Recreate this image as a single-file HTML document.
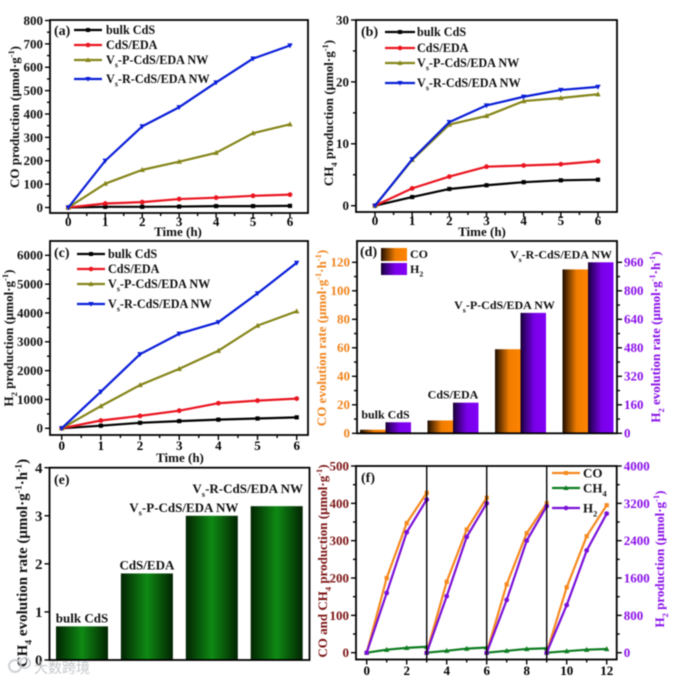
<!DOCTYPE html>
<html lang="en">
<head>
<meta charset="utf-8">
<title>Photocatalytic production charts</title>
<style>
html,body{margin:0;padding:0;background:#fff;width:684px;height:681px;overflow:hidden}
svg{display:block;filter:blur(0.6px)}
text{font-family:"Liberation Serif","Noto Serif CJK SC",serif;font-weight:bold}
</style>
</head>
<body>
<svg id="figure" xmlns="http://www.w3.org/2000/svg" width="684" height="681" viewBox="0 0 684 681">
<defs>
<linearGradient id="grad-orange" x1="0" x2="1" y1="0" y2="0"><stop offset="0" stop-color="#1c0c00"/><stop offset="0.2" stop-color="#6a3600"/><stop offset="0.55" stop-color="#f07c00"/><stop offset="1" stop-color="#ff8400"/></linearGradient>
<linearGradient id="grad-purple" x1="0" x2="1" y1="0" y2="0"><stop offset="0" stop-color="#14002e"/><stop offset="0.2" stop-color="#3d0080"/><stop offset="0.55" stop-color="#7a00ea"/><stop offset="1" stop-color="#8200f5"/></linearGradient>
<linearGradient id="grad-green" x1="0" x2="1" y1="0" y2="0"><stop offset="0" stop-color="#022402"/><stop offset="0.5" stop-color="#0f8a14"/><stop offset="1" stop-color="#022402"/></linearGradient>
</defs>
</svg>
<script>
const timeHours = [0, 1, 2, 3, 4, 5, 6];
const seriesNames = ['bulk CdS', 'CdS/EDA', 'VS-P-CdS/EDA NW', 'VS-R-CdS/EDA NW'];

const coBulk = [0, 3, 3, 4, 6, 6, 7];
const coEda = [0, 17, 23, 36, 42, 50, 55];
const coP = [0, 102, 161, 196, 234, 318, 356];
const coR = [0, 200, 347, 429, 535, 637, 693];
const coTicks = [0, 100, 200, 300, 400, 500, 600, 700, 800];

const ch4Bulk = [0, 1.4, 2.7, 3.3, 3.8, 4.1, 4.2];
const ch4Eda = [0, 2.8, 4.7, 6.3, 6.5, 6.7, 7.2];
const ch4P = [0, 7.4, 13.1, 14.5, 16.9, 17.4, 18];
const ch4R = [0, 7.5, 13.5, 16.2, 17.6, 18.7, 19.2];
const ch4Ticks = [0, 10, 20, 30];

const h2Bulk = [0, 90, 190, 250, 300, 340, 380];
const h2Eda = [0, 270, 430, 610, 870, 960, 1030];
const h2P = [0, 770, 1500, 2060, 2690, 3560, 4060];
const h2R = [0, 1270, 2570, 3280, 3680, 4680, 5740];
const h2Ticks = [0, 1000, 2000, 3000, 4000, 5000, 6000];

const rateCategories = ['bulk CdS', 'CdS/EDA', 'VS-P-CdS/EDA NW', 'VS-R-CdS/EDA NW'];
const coRate = [2.5, 9, 59, 115];
const h2Rate = [62, 172, 676, 960];
const coRateTicks = [0, 20, 40, 60, 80, 100, 120];
const h2RateTicks = [0, 160, 320, 480, 640, 800, 960];

const ch4Rate = [0.7, 1.8, 3.0, 3.2];
const ch4RateTicks = [0, 1, 2, 3, 4];

const cycleTicks = [0, 2, 4, 6, 8, 10, 12];
const cycleBreaks = [3, 6, 9];
const cycleTimes = [[0, 1, 2, 3], [3, 4, 5, 6], [6, 7, 8, 9], [9, 10, 11, 12]];
const cycleCo = [[0, 200, 347, 428], [0, 190, 330, 415], [0, 183, 320, 400], [0, 175, 312, 395]];
const cycleCh4 = [[0, 8, 13, 16], [0, 5, 11, 14], [0, 5, 10, 12], [0, 4, 8, 10]];
const cycleH2 = [[0, 1280, 2580, 3280], [0, 1210, 2480, 3200], [0, 1130, 2400, 3140], [0, 1020, 2190, 2980]];
const cycleLeftTicks = [0, 100, 200, 300, 400, 500];
const cycleRightTicks = [0, 800, 1600, 2400, 3200, 4000];

const NS = 'http://www.w3.org/2000/svg';
const root = document.getElementById('figure');
const SERIES_COLORS = ['#000000', '#ea1520', '#85851a', '#0a1ed8'];
const MARKERS = ['square', 'circle', 'up', 'down'];
const ORANGE = '#f0841c';
const PURPLE = '#8a10e8';
const DARKRED = '#7c1414';

function mk(tag, attrs, parent, name) {
  const el = document.createElementNS(NS, tag);
  for (const k in attrs) el.setAttribute(k, attrs[k]);
  
  
  parent.appendChild(el);
  return el;
}
function lin(d0, d1, r0, r1) {
  return function (v) { return r0 + (v - d0) * (r1 - r0) / (d1 - d0); };
}
function slug(s) { return String(s).toLowerCase().replace(/[^a-z0-9]+/g, '-').replace(/^-|-$/g, ''); }

function rich(parent, x, y, segs, size, fill, name, extra) {
  const attrs = Object.assign({ x: x, y: y, 'font-size': size, fill: fill }, extra || {});
  const t = mk('text', attrs, parent, name);
  let pending = 0;
  segs.forEach(function (s) {
    const span = document.createElementNS(NS, 'tspan');
    const kind = s[1];
    const shift = kind === 'sub' ? size * 0.3 : kind === 'sup' ? -size * 0.38 : 0;
    const d = pending + shift;
    if (d) span.setAttribute('dy', d);
    if (kind) span.setAttribute('font-size', size * 0.65);
    span.textContent = s[0];
    t.appendChild(span);
    pending = -shift;
  });
  return t;
}
function seriesSegs(label) {
  if (label.indexOf('VS') === 0) return [['V'], ['s', 'sub'], [label.slice(2)]];
  return [[label]];
}
function drawFrame(g, x0, y0, x1, y1) {
  mk('rect', { x: x0, y: y0, width: x1 - x0, height: y1 - y0, fill: 'none', stroke: '#000', 'stroke-width': 1.8 }, g, 'plot-frame');
}
function tick(g, x1, y1, x2, y2, name) {
  mk('line', { x1: x1, y1: y1, x2: x2, y2: y2, stroke: '#000', 'stroke-width': 1.4 }, g, name);
}
function yAxis(g, side, frameX, scale, ticks, withMinor, color, size) {
  const dir = side === 'left' ? -1 : 1;
  ticks.forEach(function (v, i) {
    const py = scale(v);
    tick(g, frameX, py, frameX + dir * 5, py, 'y-major-tick');
    const t = mk('text', { x: frameX + dir * 7, y: py + size * 0.34, 'font-size': size, fill: color, 'text-anchor': side === 'left' ? 'end' : 'start' }, g, 'y-tick-label');
    t.textContent = v;
    if (withMinor && i < ticks.length - 1) {
      const m = scale((v + ticks[i + 1]) / 2);
      tick(g, frameX, m, frameX + dir * 3, m, 'y-minor-tick');
    }
  });
}
function xAxis(g, frameY, scale, ticks, labelY) {
  ticks.forEach(function (v, i) {
    const px = scale(v);
    tick(g, px, frameY, px, frameY + 5, 'x-major-tick');
    const t = mk('text', { x: px, y: labelY, 'font-size': 13, fill: '#000', 'text-anchor': 'middle' }, g, 'x-tick-label');
    t.textContent = v;
    if (i < ticks.length - 1) {
      const m = scale((v + ticks[i + 1]) / 2);
      tick(g, m, frameY, m, frameY + 3, 'x-minor-tick');
    }
  });
}
function marker(g, kind, x, y, color, r) {
  if (kind === 'square') return mk('rect', { x: x - r, y: y - r, width: 2 * r, height: 2 * r, fill: color }, g, 'point-square');
  if (kind === 'circle') return mk('circle', { cx: x, cy: y, r: r + 0.3, fill: color }, g, 'point-circle');
  const s = kind === 'up' ? -1 : 1;
  const pts = [[x - r - 0.6, y - s * r], [x + r + 0.6, y - s * r], [x, y + s * (r + 0.8)]].map(function (p) { return p.join(','); }).join(' ');
  return mk('polygon', { points: pts, fill: color }, g, 'point-triangle');
}
function series(g, xs, ys, sx, sy, color, kind, name) {
  const sg = mk('g', {}, g, name);
  const pts = xs.map(function (x, i) { return sx(x) + ',' + sy(ys[i]); }).join(' ');
  mk('polyline', { points: pts, fill: 'none', stroke: color, 'stroke-width': 2.2, 'stroke-linejoin': 'round' }, sg, 'series-line');
  xs.forEach(function (x, i) { marker(sg, kind, sx(x), sy(ys[i]), color, 2.1); });
}
function legendEntry(g, x0, x1, y, textX, label, color, kind) {
  const e = mk('g', {}, g, 'legend-entry');
  mk('line', { x1: x0, y1: y, x2: x1, y2: y, stroke: color, 'stroke-width': 2.2 }, e, 'legend-line');
  marker(e, kind, (x0 + x1) / 2, y, color, 2);
  rich(e, textX, y + 4, seriesSegs(label), 12.2, '#111', 'legend-label');
}
function yTitle(g, baseX, centerY, segs, size, color, name) {
  rich(g, 0, 0, segs, size, color, name, { 'text-anchor': 'middle', transform: 'translate(' + baseX + ',' + centerY + ') rotate(-90)' });
}
function panelLetter(g, x, y, s) {
  const t = mk('text', { x: x, y: y, 'font-size': 14, fill: '#111' }, g, 'panel-letter');
  t.textContent = s;
}
function timeTitle(g, cx, y) {
  const t = mk('text', { x: cx, y: y, 'font-size': 13, fill: '#111', 'text-anchor': 'middle' }, g, 'x-axis-title');
  t.textContent = 'Time (h)';
}
function linePanel(name, frame, sx, sy, yTicks, seriesData, lg, titleCfg, letter, xLabelY, timeCfg) {
  const g = mk('g', {}, root, name);
  seriesData.forEach(function (vals, i) {
    series(g, timeHours, vals, sx, sy, SERIES_COLORS[i], MARKERS[i], 'series-' + slug(seriesNames[i]));
  });
  drawFrame(g, frame[0], frame[1], frame[2], frame[3]);
  yAxis(g, 'left', frame[0], sy, yTicks, true, '#111', 13);
  xAxis(g, frame[3], sx, timeHours, xLabelY);
  yTitle(g, titleCfg[0], titleCfg[1], titleCfg[2], 13, '#111', 'y-axis-title');
  panelLetter(g, letter[0], letter[1], letter[2]);
  seriesNames.forEach(function (label, i) {
    legendEntry(g, lg.x0, lg.x1, lg.ys[i], lg.tx, label, SERIES_COLORS[i], MARKERS[i]);
  });
  timeTitle(g, timeCfg[0], timeCfg[1]);
}

/* panel a */
linePanel('panel-a-co-production', [50, 20, 308, 213], lin(0, 6, 68.3, 290), lin(0, 800, 207.5, 20.5), coTicks,
  [coBulk, coEda, coP, coR], { x0: 74, x1: 102, tx: 106, ys: [30, 45, 60, 79] },
  [19, 117, [['CO production (μmol·g'], ['-1', 'sup'], [')']]], [54, 35, '(a)'], 226, [178, 236]);

/* panel b */
linePanel('panel-b-ch4-production', [356, 20, 617, 212], lin(0, 6, 375, 598), lin(0, 30, 205.7, 20), ch4Ticks,
  [ch4Bulk, ch4Eda, ch4P, ch4R], { x0: 385, x1: 415, tx: 417, ys: [32, 48, 63, 83] },
  [333, 113, [['CH'], ['4', 'sub'], [' production (μmol·g'], ['-1', 'sup'], [')']]], [361, 36, '(b)'], 225, [482, 236]);

/* panel c */
linePanel('panel-c-h2-production', [50, 241, 308, 435], lin(0, 6, 61.7, 296.7), lin(0, 6000, 428.3, 255.3), h2Ticks,
  [h2Bulk, h2Eda, h2P, h2R], { x0: 77, x1: 105, tx: 108, ys: [254, 269, 284, 304] },
  [13, 338, [['H'], ['2', 'sub'], [' production (μmol·g'], ['-1', 'sup'], [')']]], [54, 257, '(c)'], 450, [180, 462]);

/* panel d */
(function () {
  const g = mk('g', {}, root, 'panel-d-co-h2-rates');
  const sy = lin(0, 120, 433.3, 262.3);
  const sr = lin(0, 960, 433.3, 262.3);
  const groupX = lin(0, 3, 360, 562.5);
  const barW = 25.5;
  const labelShift = [0, 0, -16, -27];
  rateCategories.forEach(function (c, i) {
    const x = groupX(i);
    const r1 = mk('rect', { x: x, y: sy(coRate[i]), width: barW, height: sy(0) - sy(coRate[i]), fill: 'url(#grad-orange)' }, g, 'bar-co-' + slug(c));
    r1.setAttribute('stroke', 'none');
    const r2 = mk('rect', { x: x + barW, y: sr(h2Rate[i]), width: barW, height: sr(0) - sr(h2Rate[i]), fill: 'url(#grad-purple)' }, g, 'bar-h2-' + slug(c));
    r2.setAttribute('stroke', 'none');
    rich(g, x + barW + labelShift[i], Math.min(sy(coRate[i]), sr(h2Rate[i])) - 4, seriesSegs(c), 12, '#111', 'bar-label', { 'text-anchor': 'middle' });
  });
  drawFrame(g, 357, 241, 617, 433.3);
  yAxis(g, 'left', 357, sy, coRateTicks, true, ORANGE, 13);
  yAxis(g, 'right', 617, sr, h2RateTicks, true, PURPLE, 13);
  yTitle(g, 326, 338, [['CO evolution rate (μmol·g'], ['-1', 'sup'], ['·h'], ['-1', 'sup'], [')']], 13, ORANGE, 'y-axis-title-co');
  yTitle(g, 660, 337, [['H'], ['2', 'sub'], [' evolution rate (μmol·g'], ['-1', 'sup'], ['·h'], ['-1', 'sup'], [')']], 13, PURPLE, 'y-axis-title-h2');
  panelLetter(g, 360, 256, '(d)');
  const l1 = mk('g', {}, g, 'legend-entry-co');
  mk('rect', { x: 381, y: 248, width: 26, height: 13, fill: 'url(#grad-orange)' }, l1, 'legend-swatch-co');
  rich(l1, 410, 258, [['CO']], 12, '#111', 'legend-label-co');
  const l2 = mk('g', {}, g, 'legend-entry-h2');
  mk('rect', { x: 381, y: 263, width: 26, height: 12, fill: 'url(#grad-purple)' }, l2, 'legend-swatch-h2');
  rich(l2, 410, 273, [['H'], ['2', 'sub']], 12, '#111', 'legend-label-h2');
})();

/* panel e */
(function () {
  const g = mk('g', {}, root, 'panel-e-ch4-rate');
  const sy = lin(0, 4, 660, 467.7);
  const barX = lin(0, 3, 56, 250.7);
  const barW = 52;
  const labelShiftX = [0, 0, -28, -29];
  const labelShiftY = [4, 4, 4, 13];
  rateCategories.forEach(function (c, i) {
    const x = barX(i);
    mk('rect', { x: x, y: sy(ch4Rate[i]), width: barW, height: sy(0) - sy(ch4Rate[i]), fill: 'url(#grad-green)' }, g, 'bar-ch4-' + slug(c));
    rich(g, x + barW / 2 + labelShiftX[i], sy(ch4Rate[i]) - labelShiftY[i], seriesSegs(c), 13, '#111', 'bar-label', { 'text-anchor': 'middle' });
  });
  drawFrame(g, 49.5, 467.7, 309.5, 660);
  yAxis(g, 'left', 49.5, sy, ch4RateTicks, false, '#111', 15);
  yTitle(g, 27, 563, [['CH'], ['4', 'sub'], [' evolution rate (μmol·g'], ['-1', 'sup'], ['·h'], ['-1', 'sup'], [')']], 15, '#111', 'y-axis-title');
  panelLetter(g, 54, 484, '(e)');
  const wm = mk('g', { opacity: 0.8 }, root, 'watermark');
  mk('circle', { cx: 15, cy: 666, r: 6, fill: 'none', stroke: '#c4c8cc', 'stroke-width': 2 }, wm, 'watermark-icon');
  mk('circle', { cx: 25, cy: 663, r: 5, fill: 'none', stroke: '#c4c8cc', 'stroke-width': 2 }, wm, 'watermark-icon-2');
  const wt = mk('text', { x: 34, y: 673, 'font-size': 14, fill: '#b4b8bc' }, wm, 'watermark-text');
  wt.setAttribute('style', 'font-family:"Noto Sans CJK SC",sans-serif;font-weight:normal');
  wt.textContent = '大数跨境';
})();

/* panel f */
(function () {
  const g = mk('g', {}, root, 'panel-f-cycling');
  const sx = lin(0, 12, 366.7, 606.7);
  const sl = lin(0, 500, 652.7, 466);
  const sr = lin(0, 4000, 652.7, 466);
  const CO = '#f5891e';
  const CH = '#0c7c20';
  const HH = '#7a10d8';
  cycleTimes.forEach(function (xs, i) {
    series(g, xs, cycleCo[i], sx, sl, CO, 'square', 'series-co-cycle-' + (i + 1));
    series(g, xs, cycleCh4[i], sx, sl, CH, 'up', 'series-ch4-cycle-' + (i + 1));
    series(g, xs, cycleH2[i], sx, sr, HH, 'circle', 'series-h2-cycle-' + (i + 1));
  });
  cycleBreaks.forEach(function (v) {
    mk('line', { x1: sx(v), y1: 466, x2: sx(v), y2: 659.5, stroke: '#000', 'stroke-width': 1.4 }, g, 'cycle-divider');
  });
  drawFrame(g, 356, 466, 616.7, 659.5);
  yAxis(g, 'left', 356, sl, cycleLeftTicks, true, DARKRED, 13);
  yAxis(g, 'right', 616.7, sr, cycleRightTicks, true, PURPLE, 13);
  xAxis(g, 659.5, sx, cycleTicks, 675);
  yTitle(g, 327, 561, [['CO and CH'], ['4', 'sub'], [' production (μmol·g'], ['-1', 'sup'], [')']], 13, DARKRED, 'y-axis-title-co-ch4');
  yTitle(g, 664, 559, [['H'], ['2', 'sub'], [' production (μmol·g'], ['-1', 'sup'], [')']], 13, PURPLE, 'y-axis-title-h2');
  panelLetter(g, 361, 482, '(f)');
  const items = [['CO', CO, 'square', 473], ['CH4', CH, 'up', 488], ['H2', HH, 'circle', 508]];
  items.forEach(function (it) {
    const e = mk('g', {}, g, 'legend-entry-' + slug(it[0]));
    mk('line', { x1: 552, y1: it[3], x2: 580, y2: it[3], stroke: it[1], 'stroke-width': 2.2 }, e, 'legend-line');
    marker(e, it[2], 566, it[3], it[1], 2);
    const segs = it[0] === 'CO' ? [['CO']] : [[it[0].slice(0, -1)], [it[0].slice(-1), 'sub']];
    rich(e, 583, it[3] + 4.5, segs, 13, '#111', 'legend-label');
  });
})();
</script>
</body>
</html>
